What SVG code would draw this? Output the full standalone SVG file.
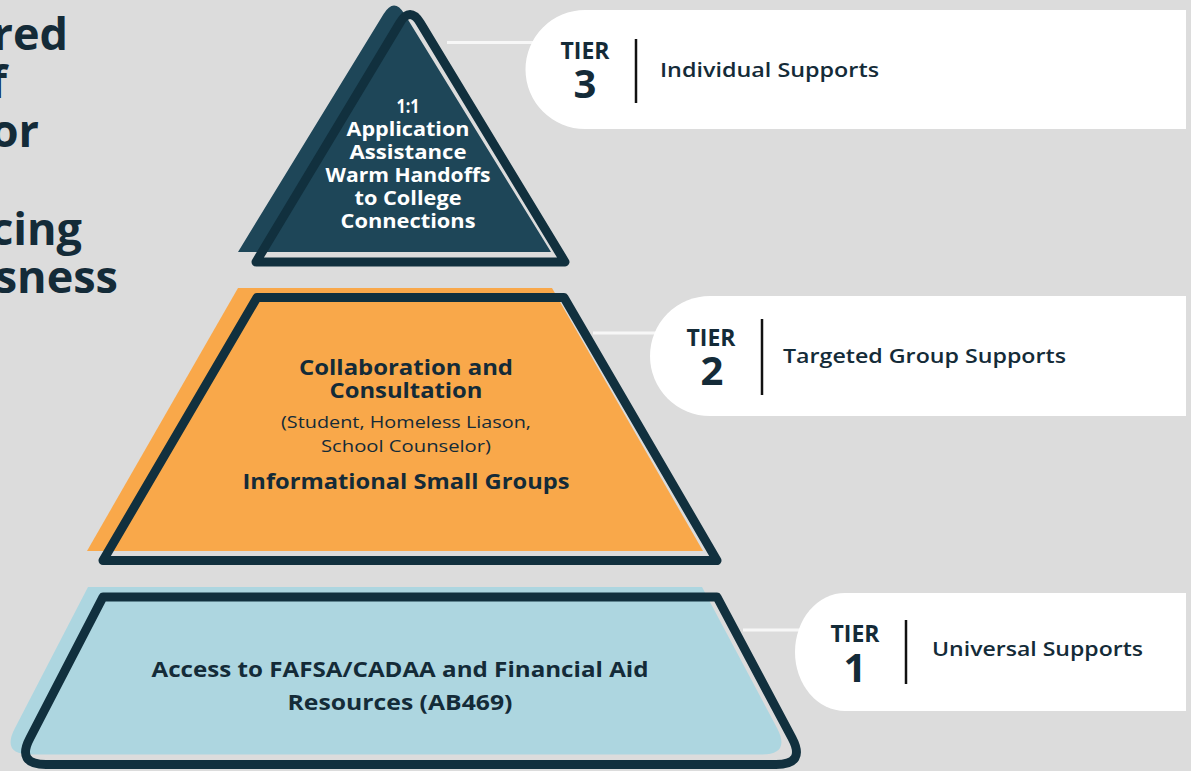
<svg xmlns="http://www.w3.org/2000/svg" width="1191" height="771" viewBox="0 0 1191 771">
  <style>
    text { font-family: "Open Sans", "Liberation Sans", sans-serif; }
    .title { font-size: 45px; font-weight: 700; fill: #142b38; text-anchor: end; }
    .tier { font-size: 23px; font-weight: 700; fill: #142b38; text-anchor: middle; }
    .num { font-size: 40px; font-weight: 700; fill: #142b38; text-anchor: middle; }
    .sup { font-size: 20.5px; font-weight: 600; fill: #142b38; }
    .pt3 { font-size: 19px; font-weight: 700; fill: #ffffff; text-anchor: middle; }
    .pt { font-size: 21px; font-weight: 700; fill: #142b38; text-anchor: middle; }
    .pr { font-size: 17px; font-weight: 400; fill: #142b38; text-anchor: middle; }
    .outline { fill: none; stroke: #11303e; stroke-width: 9; stroke-linejoin: round; }
    .badge { fill: #ffffff; }
    .divider { stroke: #111111; stroke-width: 2.5; }
    .conn { stroke: #f7f7f7; stroke-width: 3; }
  </style>
  <rect x="0" y="0" width="1191" height="771" fill="#dcdcdc"/>

  <g id="title">
    <text class="title" x="68" y="50">red</text>
    <text class="title" x="7" y="98">f</text>
    <text class="title" x="39" y="147">or</text>
    <text class="title" x="82" y="245">cing</text>
    <text class="title" x="118" y="293">sness</text>
  </g>

  <g id="connectors">
    <line class="conn" x1="447" y1="42.5" x2="560" y2="42.5"/>
    <line class="conn" x1="593" y1="333" x2="690" y2="333"/>
    <line class="conn" x1="743" y1="630" x2="830" y2="630"/>
  </g>

  <g id="tier3">
    <path d="M238,252 L383.6,14.1 Q394,-3 404.5,14 L551,252 Z" fill="#1e4658"/>
    <path class="outline" d="M256,262 L399.7,23.1 Q410,6 420.4,23.1 L565,262 Z"/>
    <text class="pt3" x="408" y="113" textLength="23" lengthAdjust="spacingAndGlyphs">1:1</text>
    <text class="pt3" x="408" y="136" textLength="123" lengthAdjust="spacingAndGlyphs">Application</text>
    <text class="pt3" x="408" y="159" textLength="117" lengthAdjust="spacingAndGlyphs">Assistance</text>
    <text class="pt3" x="408" y="182" textLength="165" lengthAdjust="spacingAndGlyphs">Warm Handoffs</text>
    <text class="pt3" x="408" y="205" textLength="107" lengthAdjust="spacingAndGlyphs">to College</text>
    <text class="pt3" x="408" y="228" textLength="135" lengthAdjust="spacingAndGlyphs">Connections</text>
  </g>

  <g id="tier2">
    <polygon points="238,288 552,288 703,551 87,551" fill="#f9a84a"/>
    <polygon class="outline" points="257,297.5 564,297.5 717,560.5 103,560.5"/>
    <text class="pt" x="406" y="375" textLength="214" lengthAdjust="spacingAndGlyphs">Collaboration and</text>
    <text class="pt" x="406" y="398" textLength="153" lengthAdjust="spacingAndGlyphs">Consultation</text>
    <text class="pr" x="406" y="428" textLength="250" lengthAdjust="spacingAndGlyphs">(Student, Homeless Liason,</text>
    <text class="pr" x="406" y="452" textLength="170" lengthAdjust="spacingAndGlyphs">School Counselor)</text>
    <text class="pt" x="406" y="489" textLength="327" lengthAdjust="spacingAndGlyphs">Informational Small Groups</text>
  </g>

  <g id="tier1">
    <path d="M88,587 L702,587 L777,728 Q791,754.5 761,754.5 L31,754.5 Q1,754.5 15,728 Z" fill="#add6e0"/>
    <path class="outline" d="M103,597 L717,597 L792,738 Q806,764.5 776,764.5 L46,764.5 Q16,764.5 30,738 Z"/>
    <text class="pt" x="400" y="677" textLength="497" lengthAdjust="spacingAndGlyphs">Access to FAFSA/CADAA and Financial Aid</text>
    <text class="pt" x="400" y="710" textLength="225" lengthAdjust="spacingAndGlyphs">Resources (AB469)</text>
  </g>

  <g id="tier3-label">
    <path class="badge" d="M585,10 H1186 V129 H585 A59.5,59.5 0 0 1 585,10 Z"/>
    <text class="tier" x="585" y="59">TIER</text>
    <text class="num" x="585" y="98">3</text>
    <line class="divider" x1="636" y1="39" x2="636" y2="103"/>
    <text class="sup" x="660" y="77" textLength="219" lengthAdjust="spacingAndGlyphs">Individual Supports</text>
  </g>

  <g id="tier2-label">
    <path class="badge" d="M710,296 H1186 V416 H710 A60,60 0 0 1 710,296 Z"/>
    <text class="tier" x="711" y="346">TIER</text>
    <text class="num" x="712" y="385">2</text>
    <line class="divider" x1="762" y1="319" x2="762" y2="395"/>
    <text class="sup" x="783" y="363" textLength="283" lengthAdjust="spacingAndGlyphs">Targeted Group Supports</text>
  </g>

  <g id="tier1-label">
    <path class="badge" d="M845,593 H1186 V711 H845 A50,59 0 0 1 845,593 Z"/>
    <text class="tier" x="855" y="642">TIER</text>
    <text class="num" x="855" y="682">1</text>
    <line class="divider" x1="906" y1="620" x2="906" y2="684"/>
    <text class="sup" x="932" y="656" textLength="211" lengthAdjust="spacingAndGlyphs">Universal Supports</text>
  </g>
</svg>
